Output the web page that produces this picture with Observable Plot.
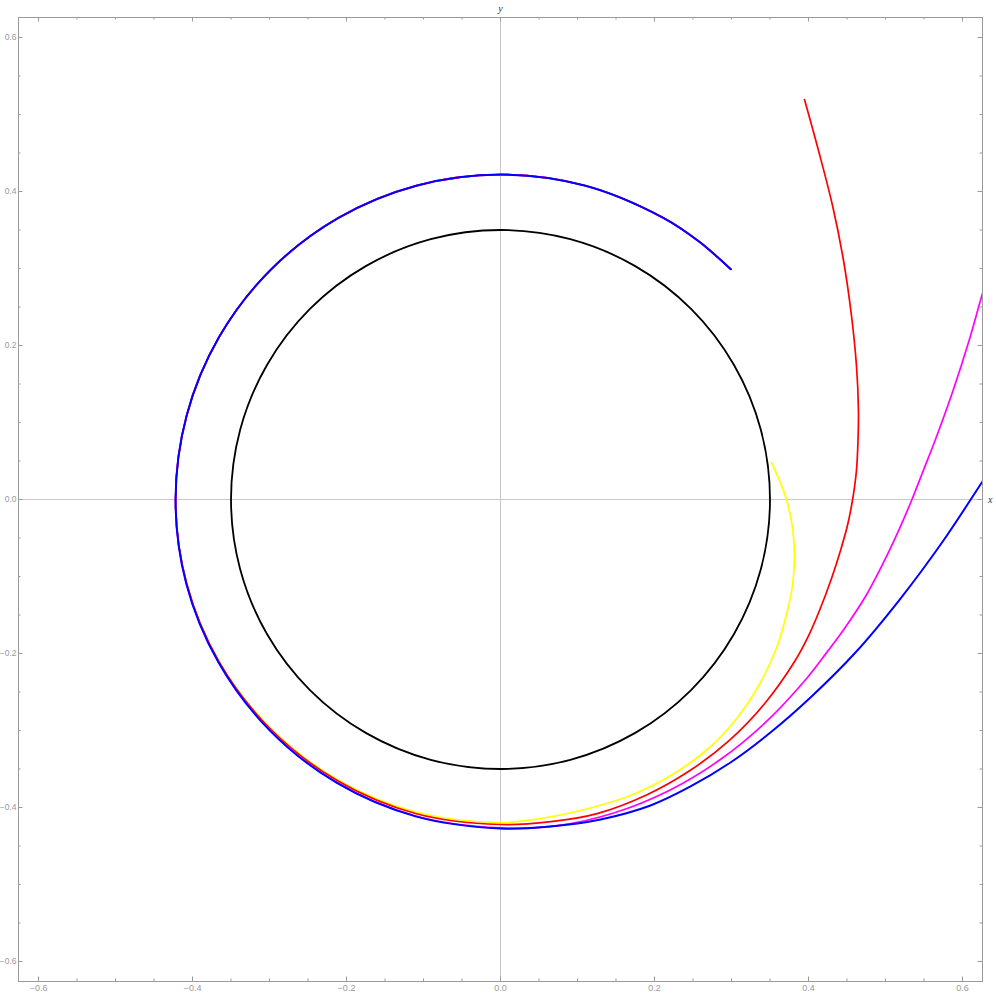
<!DOCTYPE html>
<html>
<head>
<meta charset="utf-8">
<script src="https://cdn.jsdelivr.net/npm/d3@7"></script>
<script src="https://cdn.jsdelivr.net/npm/@observablehq/plot@0.6"></script>
<style>
  html, body { margin: 0; padding: 0; background: #fff; }
  #chart { width: 996px; height: 995px; }
</style>
</head>
<body>
<div id="chart"></div>
<script>
// ---- data ----
const horizonX = [0.35, 0.3381, 0.3031, 0.2475, 0.175, 0.0906, 0, -0.0906, -0.175, -0.2475, -0.3031, -0.3381,
                  -0.35, -0.3381, -0.3031, -0.2475, -0.175, -0.0906, 0, 0.0906, 0.175, 0.2475, 0.3031, 0.3381];
const horizonY = [0, 0.0906, 0.175, 0.2475, 0.3031, 0.3381, 0.35, 0.3381, 0.3031, 0.2475, 0.175, 0.0906,
                  0, -0.0906, -0.175, -0.2475, -0.3031, -0.3381, -0.35, -0.3381, -0.3031, -0.2475, -0.175, -0.0906];

// shared upper part of the orbit (left side over the top), where all rays coincide
const orbitTailX = [-0.4076, -0.3655, -0.2984, -0.211, -0.1092, 0, 0.1093, 0.2113, 0.2574, 0.2991];
const orbitTailY = [0.1092, 0.211, 0.2984, 0.3655, 0.4076, 0.422, 0.4078, 0.3659, 0.3354, 0.2991];

const yellowX = [0.3519, 0.3623, 0.3714, 0.3792, 0.3818, 0.3792, 0.3727, 0.3597, 0.3377, 0.3078, 0.2701, 0.2234, 0.1688, 0.1039, 0.0519, 0, -0.1088, -0.2105, -0.2978, -0.365, -0.4074, -0.4218];
const yellowY = [0.0481, 0.0247, 0, -0.0364, -0.0753, -0.1117, -0.1442, -0.1896, -0.2377, -0.2831, -0.3234, -0.3571, -0.3844, -0.4039, -0.4143, -0.4195, -0.4062, -0.3646, -0.2978, -0.2108, -0.1092, 0];

const redX = [0.3948, 0.413, 0.4312, 0.4455, 0.4558, 0.4623, 0.4649, 0.4643, 0.4623, 0.4571, 0.4506, 0.4416, 0.4299, 0.4143, 0.3997, 0.383, 0.3421, 0.2965, 0.2451, 0.1917, 0.1255, 0.0655, 0, -0.1093, -0.2111, -0.2984, -0.3655, -0.4076, -0.422];
const redY = [0.5195, 0.4532, 0.3818, 0.3104, 0.239, 0.174, 0.1156, 0.0766, 0.0377, -0.0013, -0.0338, -0.0662, -0.1026, -0.1442, -0.1779, -0.2088, -0.2663, -0.3135, -0.3527, -0.3827, -0.4079, -0.4184, -0.4221, -0.4081, -0.3656, -0.2984, -0.211, -0.1092, 0];

const magentaX = [0.6351, 0.626, 0.6086, 0.5878, 0.5644, 0.5492, 0.5344, 0.5182, 0.4974, 0.474, 0.4468, 0.4243, 0.3992, 0.3446, 0.2842, 0.2184, 0.1481, 0.0747, 0, -0.1101, -0.2123, -0.2995, -0.3662, -0.4079, -0.422];
const magentaY = [0.2948, 0.2675, 0.2065, 0.1416, 0.0766, 0.0377, 0, -0.0377, -0.0818, -0.126, -0.1675, -0.1979, -0.2305, -0.2891, -0.3387, -0.3783, -0.4069, -0.4235, -0.4265, -0.411, -0.3676, -0.2995, -0.2114, -0.1093, 0];

const blueX = [0.649, 0.626, 0.5753, 0.5195, 0.461, 0.4026, 0.3506, 0.2987, 0.2468, 0.1948, 0.1299, 0.0649, 0, -0.1103, -0.2125, -0.2998, -0.3663, -0.4081, -0.422];
const blueY = [0.058, 0.0234, -0.0532, -0.1286, -0.1987, -0.2571, -0.3026, -0.3416, -0.3727, -0.3974, -0.4156, -0.4247, -0.4273, -0.4115, -0.3681, -0.2998, -0.2115, -0.1094, 0];

const majorTicks = [-0.6, -0.4, -0.2, 0, 0.2, 0.4, 0.6];
const majorLabels = ["\u22120.6", "\u22120.4", "\u22120.2", "0.0", "0.2", "0.4", "0.6"];
const minorTicks = [-0.6, -0.55, -0.5, -0.45, -0.4, -0.35, -0.3, -0.25, -0.2, -0.15, -0.1, -0.05, 0,
                    0.05, 0.1, 0.15, 0.2, 0.25, 0.3, 0.35, 0.4, 0.45, 0.5, 0.55, 0.6];
const axisLabels = ["x", "y"];
const domainLimit = [-0.626, 0.626];

// ---- build tables ----
const toPts = (xs, ys) => xs.map((x, i) => ({x, y: ys[i]}));
const withTail = (xs, ys) => toPts(xs.concat(orbitTailX), ys.concat(orbitTailY));
const horizon = toPts(horizonX, horizonY);
const curves = [
  {pts: withTail(yellowX, yellowY), color: "#ffff00", w: 1.7},
  {pts: withTail(redX, redY), color: "#ff0000", w: 1.7},
  {pts: withTail(magentaX, magentaY), color: "#ff00ff", w: 1.7},
  {pts: withTail(blueX, blueY), color: "#0000ff", w: 2.0}
];
const majors = majorTicks.map((v, i) => ({v, label: majorLabels[i]}));

const W = 996, H = 995, mT = 17, mR = 14, mB = 14, mL = 18;
const PW = W - mL - mR, PH = H - mT - mB;
const frameColor = "#9a9a9a";
const majorLen = 4.5, minorLen = 2.5;
const tickFont = "'Liberation Sans', Arial, sans-serif";
const labelFont = "'Liberation Serif', 'DejaVu Serif', serif";

const marks = [
  Plot.ruleX([0], {stroke: "#c8c8c8", strokeWidth: 1}),
  Plot.ruleY([0], {stroke: "#c8c8c8", strokeWidth: 1}),
  Plot.line(horizon, {x: "x", y: "y", curve: "catmull-rom-closed", stroke: "#000", strokeWidth: 1.8})
];
for (const c of curves) {
  marks.push(Plot.line(c.pts, {x: "x", y: "y", curve: "catmull-rom", stroke: c.color, strokeWidth: c.w, clip: true}));
}
// frame ticks and labels
marks.push(
  Plot.tickX(minorTicks, {x: d => d, stroke: frameColor, insetTop: PH - minorLen}),
  Plot.tickX(minorTicks, {x: d => d, stroke: frameColor, insetBottom: PH - minorLen}),
  Plot.tickY(minorTicks, {y: d => d, stroke: frameColor, insetRight: PW - minorLen}),
  Plot.tickY(minorTicks, {y: d => d, stroke: frameColor, insetLeft: PW - minorLen}),
  Plot.tickX(majorTicks, {x: d => d, stroke: frameColor, insetTop: PH - majorLen}),
  Plot.tickX(majorTicks, {x: d => d, stroke: frameColor, insetBottom: PH - majorLen}),
  Plot.tickY(majorTicks, {y: d => d, stroke: frameColor, insetRight: PW - majorLen}),
  Plot.tickY(majorTicks, {y: d => d, stroke: frameColor, insetLeft: PW - majorLen}),
  Plot.frame({stroke: frameColor, strokeWidth: 1}),
  Plot.text(majors, {x: "v", text: "label", frameAnchor: "bottom", dy: 9, fill: "#999", fontSize: 9, fontFamily: tickFont}),
  Plot.text(majors, {y: "v", text: "label", frameAnchor: "left", dx: -2, textAnchor: "end", fill: "#999", fontSize: 8.5, fontFamily: tickFont}),
  Plot.text([axisLabels[0]], {y: [0], text: d => d, frameAnchor: "right", dx: 10, fontStyle: "italic", fontFamily: labelFont, fontSize: 10, fill: "#333"}),
  Plot.text([axisLabels[1]], {x: [0], text: d => d, frameAnchor: "top", dy: -13, fontStyle: "italic", fontFamily: labelFont, fontSize: 10, fill: "#333"})
);

const chart = Plot.plot({
  width: W, height: H,
  marginTop: mT, marginRight: mR, marginBottom: mB, marginLeft: mL,
  x: {domain: domainLimit, axis: null},
  y: {domain: domainLimit, axis: null},
  style: {background: "#fff", overflow: "visible"},
  marks
});
document.getElementById("chart").appendChild(chart);
</script>
</body>
</html>
